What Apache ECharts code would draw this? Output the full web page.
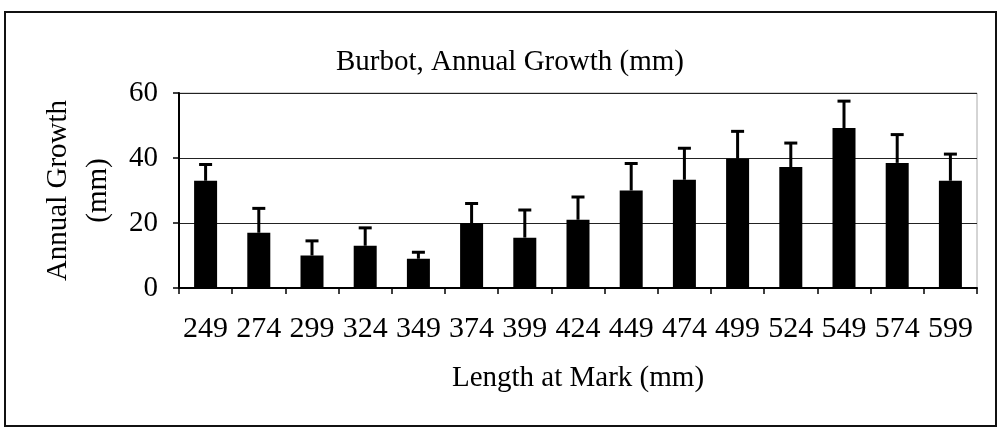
<!DOCTYPE html>
<html>
<head>
<meta charset="utf-8">
<title>Burbot, Annual Growth</title>
<script src="https://cdn.jsdelivr.net/npm/echarts@6/dist/echarts.min.js"></script>
<style>
  html, body { margin: 0; padding: 0; background: #fff; }
  #main { width: 999px; height: 431px; }
</style>
</head>
<body>
<div id="main"></div>
<script>
// length at mark (mm) categories
var lengths = ["249", "274", "299", "324", "349", "374", "399", "424", "449", "474", "499", "524", "549", "574", "599"];
// mean annual growth (mm)
var growth = [33, 17, 10, 13, 9, 20, 15.5, 21, 30, 33.3, 39.8, 37.2, 49.2, 38.5, 33];
// top of the error bar (mean + error)
var growthUpper = [38, 24.5, 14.5, 18.5, 11, 26, 24, 28, 38.3, 43, 48.2, 44.6, 57.5, 47.2, 41.2];
// y axis ticks
var yTicks = [0, 20, 40, 60];

var serif = "Liberation Serif";
var myChart = echarts.init(document.getElementById("main"));

var errData = lengths.map(function (c, i) {
  return [i, growth[i], growthUpper[i]];
});

var option = {
  backgroundColor: "#fff",
  animation: false,
  title: {
    text: "Burbot, Annual Growth (mm)",
    left: 331,
    top: 43,
    textStyle: { fontFamily: serif, fontSize: 29, fontWeight: "normal", color: "#000" },
  },
  // outer frame around the whole chart
  graphic: [
    {
      type: "rect",
      shape: { x: 5, y: 12, width: 991, height: 414 },
      style: { fill: null, stroke: "#111", lineWidth: 2 },
      silent: true,
    },
  ],
  grid: {
    left: 179,
    right: 22,
    top: 93,
    bottom: 143,
    show: true,
    borderColor: "#aaa",
    borderWidth: 1,
  },
  xAxis: {
    type: "category",
    data: lengths,
    name: "Length at Mark (mm)",
    nameLocation: "middle",
    nameGap: 76,
    nameTextStyle: { fontFamily: serif, fontSize: 29, color: "#000" },
    axisLine: { lineStyle: { color: "#000", width: 2 } },
    axisTick: { show: true, alignWithLabel: false, length: 6, lineStyle: { color: "#000", width: 1.5 } },
    axisLabel: { fontFamily: serif, fontSize: 30, color: "#000", margin: 26, interval: 0 },
  },
  yAxis: {
    type: "value",
    min: yTicks[0],
    max: yTicks[yTicks.length - 1],
    interval: yTicks[1] - yTicks[0],
    name: "Annual Growth\n(mm)",
    nameLocation: "middle",
    nameGap: 60,
    nameTextStyle: { fontFamily: serif, fontSize: 29, color: "#000", lineHeight: 40 },
    axisLine: { show: true, lineStyle: { color: "#000", width: 2 } },
    axisTick: { show: true, length: 6, lineStyle: { color: "#000", width: 1.5 } },
    axisLabel: { fontFamily: serif, fontSize: 29, color: "#000", margin: 21 },
    splitLine: { show: true, lineStyle: { color: "#222", width: 1 } },
  },
  series: [
    {
      name: "Annual Growth",
      type: "bar",
      data: growth,
      barWidth: 23,
      itemStyle: { color: "#000" },
      z: 2,
    },
    {
      // upper error bars
      name: "error",
      type: "custom",
      data: errData,
      z: 3,
      renderItem: function (params, api) {
        var x = api.value(0);
        var base = api.coord([x, api.value(1)]);
        var top = api.coord([x, api.value(2)]);
        var half = 6.5;
        var st = { stroke: "#000", lineWidth: 3 };
        return {
          type: "group",
          children: [
            { type: "line", shape: { x1: base[0], y1: base[1], x2: top[0], y2: top[1] }, style: st },
            { type: "line", shape: { x1: top[0] - half, y1: top[1], x2: top[0] + half, y2: top[1] }, style: st },
          ],
        };
      },
    },
  ],
};

myChart.setOption(option);
</script>
</body>
</html>
